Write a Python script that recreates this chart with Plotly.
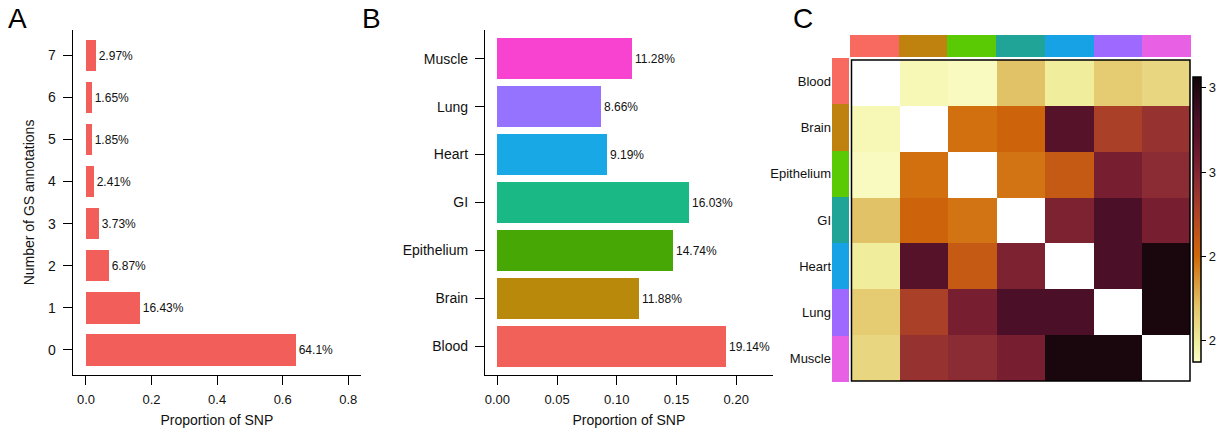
import plotly.graph_objects as go

# Panel A: number of GS annotations per SNP
gs_counts = [0, 1, 2, 3, 4, 5, 6, 7]
gs_prop = [0.641, 0.1643, 0.0687, 0.0373, 0.0241, 0.0185, 0.0165, 0.0297]

# Panel B: proportion of SNP per tissue
tissues = ["Blood", "Brain", "Epithelium", "GI", "Heart", "Lung", "Muscle"]
tissue_prop = [0.1914, 0.1188, 0.1474, 0.1603, 0.0919, 0.0866, 0.1128]
bar_colors = ["#F2605A", "#B8890A", "#47A805", "#1AB884", "#18A8E5", "#9673FF", "#F843D0"]
annot_colors = ["#F8695F", "#C0820E", "#5ACA05", "#21A498", "#17A2E6", "#9D69FF", "#E860E4"]

# Panel C: pairwise tissue matrix (diagonal left empty)
pair_matrix = [
    [None, 2.57, 2.56, 2.685, 2.60, 2.665, 2.645],
    [2.57, None, 2.79, 2.81, 3.09, 2.91, 2.955],
    [2.56, 2.79, None, 2.785, 2.84, 3.02, 2.98],
    [2.685, 2.81, 2.785, None, 3.01, 3.12, 3.02],
    [2.60, 3.09, 2.84, 3.01, None, 3.12, 3.21],
    [2.665, 2.91, 3.02, 3.12, 3.12, None, 3.21],
    [2.645, 2.955, 2.98, 3.02, 3.21, 3.21, None],
]
cbar_ticks = [2.6, 2.8, 3.0, 3.2]
cbar_labels = ["2", "2", "3", "3"]

FONT = "Liberation Sans, Arial, Helvetica, sans-serif"
INK = "#111111"
W, H = 1225, 434


def px_x(a, b):
    return [a / W, b / W]


def px_y(top, bottom):
    return [1 - bottom / H, 1 - top / H]


def pct(v):
    return f"{v * 100:.4g}%"


heat_scale = [
    [0.0, "#FCFDC8"],
    [0.07, "#F0EE9E"],
    [0.2, "#E2C266"],
    [0.37, "#D06808"],
    [0.43, "#C45A14"],
    [0.53, "#AB4127"],
    [0.64, "#8A2A33"],
    [0.7, "#761E30"],
    [0.8, "#561228"],
    [0.85, "#4A1028"],
    [1.0, "#100608"],
]

annot_scale = [[i / (len(annot_colors) - 1), c] for i, c in enumerate(annot_colors)]

fig = go.Figure()

# A
fig.add_trace(go.Bar(
    x=gs_prop, y=gs_counts, orientation="h", width=0.745,
    marker=dict(color="#F25F5A", line=dict(width=0)),
    text=[pct(v) for v in gs_prop], textposition="outside", constraintext="none",
    textfont=dict(size=12, color=INK, family=FONT), cliponaxis=False,
    xaxis="x", yaxis="y", showlegend=False, hoverinfo="skip",
))

# B
fig.add_trace(go.Bar(
    x=tissue_prop, y=tissues, orientation="h", width=0.85,
    marker=dict(color=bar_colors, line=dict(width=0)),
    text=[pct(v) for v in tissue_prop], textposition="outside", constraintext="none",
    textfont=dict(size=12, color=INK, family=FONT), cliponaxis=False,
    xaxis="x2", yaxis="y2", showlegend=False, hoverinfo="skip",
))

# C: main heatmap
fig.add_trace(go.Heatmap(
    z=pair_matrix, x=tissues, y=tissues, colorscale=heat_scale,
    zmin=2.55, zmax=3.225, xaxis="x3", yaxis="y3", hoverongaps=False,
    colorbar=dict(
        x=1193 / W, xanchor="left", y=1 - 219.5 / H, yanchor="middle",
        thickness=8, len=285, lenmode="pixels", xpad=0, ypad=0,
        outlinewidth=1.5, outlinecolor="black",
        tickvals=cbar_ticks, ticktext=cbar_labels, ticks="outside",
        ticklen=5, tickwidth=1, tickcolor="black",
        tickfont=dict(size=13, color=INK, family=FONT),
    ),
))

# C: column annotation strip
fig.add_trace(go.Heatmap(
    z=[list(range(len(tissues)))], x=tissues, y=[0], colorscale=annot_scale,
    zmin=0, zmax=len(tissues) - 1, showscale=False, xaxis="x4", yaxis="y4",
    hoverinfo="skip",
))

# C: row annotation strip
fig.add_trace(go.Heatmap(
    z=[[i] for i in range(len(tissues))], x=[0], y=tissues, colorscale=annot_scale,
    zmin=0, zmax=len(tissues) - 1, showscale=False, xaxis="x5", yaxis="y5",
    hoverinfo="skip",
))

axis_common = dict(
    showline=True, linecolor="black", linewidth=1.2, ticks="outside", ticklen=9,
    tickwidth=1.2, tickcolor="black", showgrid=False, zeroline=False,
)
x_ticks = dict(tickfont=dict(size=13, color=INK, family=FONT), ticklabelstandoff=3)
y_ticks = dict(tickfont=dict(size=14, color=INK, family=FONT), ticklabelstandoff=4)
title_font = dict(size=14, color=INK, family=FONT)
hidden = dict(showline=False, showticklabels=False, ticks="", showgrid=False, zeroline=False)

fig.update_layout(
    width=W, height=H, margin=dict(l=0, r=0, t=0, b=0),
    paper_bgcolor="white", plot_bgcolor="white",
    font=dict(family=FONT, color=INK),
    bargap=0,
    xaxis=dict(domain=px_x(72.7, 361), range=[-0.0405, 0.839],
               tickvals=[0, 0.2, 0.4, 0.6, 0.8], tickformat=".1f",
               title=dict(text="Proportion of SNP", font=title_font, standoff=9),
               anchor="y", **axis_common, **x_ticks),
    yaxis=dict(domain=px_y(30, 375), range=[-0.594, 7.6], tickvals=gs_counts,
               title=dict(text="Number of GS annotations", font=title_font, standoff=10),
               anchor="x", **axis_common, **y_ticks),
    xaxis2=dict(domain=px_x(485, 772.7), range=[-0.0103, 0.2305],
                tickvals=[0, 0.05, 0.1, 0.15, 0.2], tickformat=".2f",
                title=dict(text="Proportion of SNP", font=title_font, standoff=9),
                anchor="y2", **axis_common, **x_ticks),
    yaxis2=dict(domain=px_y(30, 375), range=[-0.6, 6.6], type="category",
                categoryorder="array", categoryarray=tissues,
                anchor="x2", **axis_common, **y_ticks),
    xaxis3=dict(domain=px_x(851.5, 1190), anchor="y3", **hidden),
    yaxis3=dict(domain=px_y(60, 381), anchor="x3", autorange="reversed", **hidden),
    xaxis4=dict(domain=px_x(850, 1191), anchor="y4", **hidden),
    yaxis4=dict(domain=px_y(35, 57), anchor="x4", **hidden),
    xaxis5=dict(domain=px_x(832, 849), anchor="y5", **hidden),
    yaxis5=dict(domain=px_y(58, 382), anchor="x5", autorange="reversed",
                showline=False, ticks="", showgrid=False, zeroline=False,
                showticklabels=True, tickfont=dict(size=13, color=INK, family=FONT)),
    shapes=[dict(type="rect", xref="x3 domain", yref="y3 domain", x0=0, x1=1, y0=0, y1=1,
                 line=dict(color="black", width=1.5))],
    annotations=[
        dict(text=t, x=xp / W, y=1 - 18 / H, xref="paper", yref="paper",
             xanchor="left", yanchor="middle", showarrow=False,
             font=dict(size=28, color="black", family=FONT))
        for t, xp in [("A", 6), ("B", 360), ("C", 791)]
    ],
)

fig.write_html("out.html")
